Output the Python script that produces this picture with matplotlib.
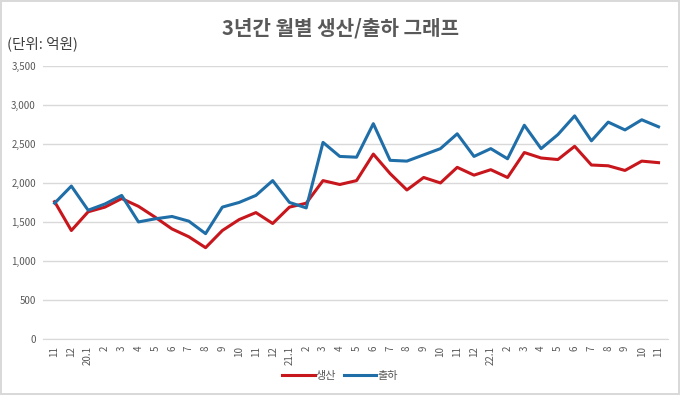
import matplotlib
matplotlib.use('Agg')
import matplotlib.pyplot as plt

plt.rcParams['font.family'] = ['Noto Sans CJK KR', 'DejaVu Sans']
plt.rcParams['axes.unicode_minus'] = False

# 월 라벨 (19.11 ~ 22.11)
months = ['11', '12', '20.1', '2', '3', '4', '5', '6', '7', '8', '9', '10', '11', '12',
          '21.1', '2', '3', '4', '5', '6', '7', '8', '9', '10', '11', '12',
          '22.1', '2', '3', '4', '5', '6', '7', '8', '9', '10', '11']

# 생산 (억원)
production = [1760, 1390, 1630, 1690, 1800, 1700, 1560, 1410, 1310, 1170, 1390, 1530, 1620,
              1480, 1690, 1740, 2030, 1980, 2030, 2370, 2120, 1910, 2070, 2000, 2200, 2100,
              2170, 2070, 2390, 2320, 2300, 2470, 2230, 2220, 2160, 2280, 2260]

# 출하 (억원)
shipment = [1740, 1960, 1650, 1730, 1840, 1500, 1540, 1570, 1510, 1350, 1690, 1750, 1840,
            2030, 1750, 1680, 2520, 2340, 2330, 2760, 2290, 2280, 2360, 2440, 2630, 2340,
            2440, 2310, 2740, 2440, 2620, 2860, 2540, 2780, 2680, 2810, 2720]

yticks = [0, 500, 1000, 1500, 2000, 2500, 3000, 3500]

fig = plt.figure(figsize=(6.8, 3.95), dpi=100)
fig.patch.set_edgecolor('#D9D9D9')
fig.patch.set_linewidth(1.5)
ax = fig.add_axes([0.063, 0.142, 0.919, 0.691])

x = list(range(len(months)))
ax.plot(x, production, color='#C8161D', linewidth=2.2, label='생산', zorder=3)
ax.plot(x, shipment, color='#1F6EA8', linewidth=2.2, label='출하', zorder=3)

ax.set_xlim(-0.7, len(months) - 0.45)
ax.set_ylim(0, 3500)
ax.set_yticks(yticks)
ax.set_yticklabels([f'{v:,}' for v in yticks], fontsize=7, color='#595959')
ax.set_xticks(x)
ax.set_xticklabels(months, rotation=90, fontsize=7, color='#595959')
ax.tick_params(length=0, pad=5)
ax.yaxis.grid(True, color='#D9D9D9', linewidth=1)
ax.set_axisbelow(True)
for s in ['top', 'right', 'left']:
    ax.spines[s].set_visible(False)
ax.spines['bottom'].set_color('#D9D9D9')

fig.text(0.5, 0.93, '3년간 월별 생산/출하 그래프', ha='center', va='center',
         fontsize=14.5, fontweight='bold', color='#595959')
fig.text(0.011, 0.888, '(단위: 억원)', ha='left', va='center', fontsize=10.5, color='#404040')

fig.legend(loc='center', bbox_to_anchor=(0.5, 0.048), ncol=2, frameon=False,
           fontsize=8, handlelength=2.9, columnspacing=0.7, handletextpad=0.1,
           labelcolor='#595959')

fig.savefig('out.png', dpi=100, edgecolor=fig.get_edgecolor())
